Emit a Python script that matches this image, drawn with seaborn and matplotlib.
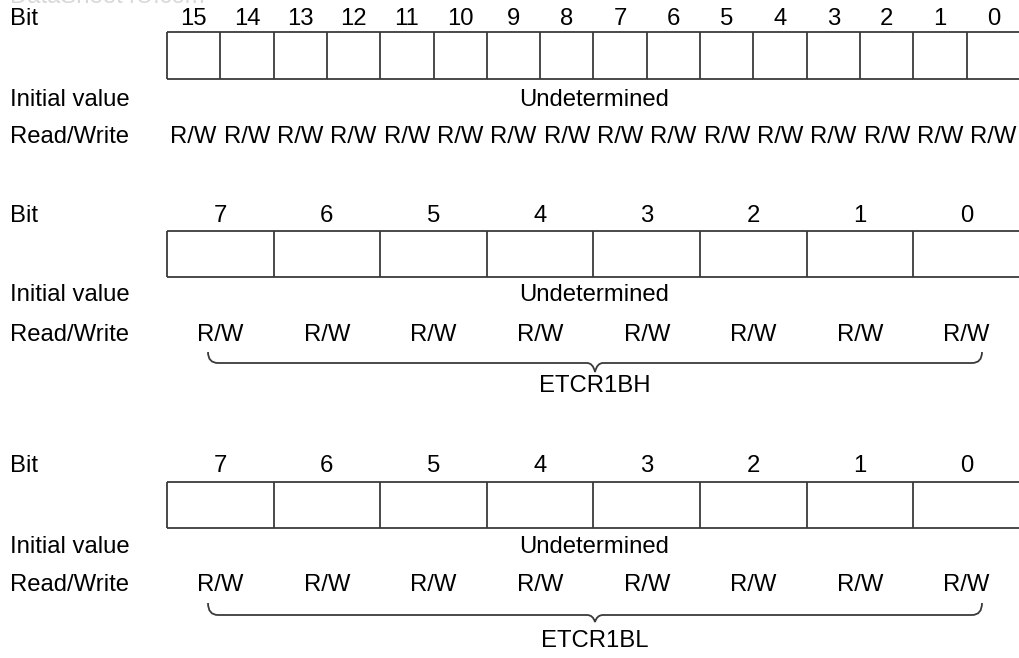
import matplotlib
matplotlib.use("Agg")
import matplotlib.pyplot as plt
from matplotlib.path import Path
from matplotlib.patches import PathPatch
import seaborn as sns

# ---- data ----
row_labels = ["Bit", "Initial value", "Read/Write"]
bits16 = [str(b) for b in range(15, -1, -1)]
bits8 = [str(b) for b in range(7, -1, -1)]
rw16 = ["R/W"] * 16
rw8 = ["R/W"] * 8
initial_text = "Undetermined"
register_names = [None, "ETCR1BH", "ETCR1BL"]
watermark = "DataSheet4U.com"

sns.set_theme(style="white")
plt.rcParams['font.family'] = ['Liberation Sans', 'DejaVu Sans']

W, H = 1020, 658
fig = plt.figure(figsize=(W / 100, H / 100), dpi=100)
ax = fig.add_axes([0, 0, 1, 1])
ax.set_xlim(0, W)
ax.set_ylim(H, 0)
ax.axis("off")

FS = 17.2
LC = "#3a3a3a"
LW = 1.3
x0, x1 = 167, 1021

ax.text(10, -3, watermark, fontsize=FS, color="#d8d8d8", ha="left", va="center", zorder=0)

sections = [
    dict(bits=bits16, rw=rw16, y_bit=19, box=(32, 79), y_init=100, y_rw=137, name=None),
    dict(bits=bits8, rw=rw8, y_bit=216, box=(231, 277), y_init=295, y_rw=335,
         name=register_names[1], brace=(352, 363, 372), y_name=386),
    dict(bits=bits8, rw=rw8, y_bit=466, box=(482, 528), y_init=547, y_rw=585,
         name=register_names[2], brace=(603, 615, 622), y_name=641),
]


def brace(ax, xl, xr, y_top, y_line, y_tip):
    xc = (xl + xr) / 2
    r = 10
    verts = [(xl, y_top), (xl, y_line), (xl + r, y_line),
             (xc - 8, y_line), (xc - 2, y_line), (xc, y_tip),
             (xc + 2, y_line), (xc + 8, y_line),
             (xr - r, y_line), (xr, y_line), (xr, y_top)]
    codes = [Path.MOVETO, Path.CURVE3, Path.CURVE3,
             Path.LINETO, Path.CURVE3, Path.CURVE3,
             Path.CURVE3, Path.CURVE3,
             Path.LINETO, Path.CURVE3, Path.CURVE3]
    ax.add_patch(PathPatch(Path(verts, codes), fill=False, edgecolor=LC, lw=LW))


for s in sections:
    n = len(s["bits"])
    cw = (1020 - x0) / n
    yt, yb = s["box"]
    ax.text(10, s["y_bit"], row_labels[0], fontsize=FS, ha="left", va="center", color="black")
    ax.text(10, s["y_init"], row_labels[1], fontsize=FS, ha="left", va="center", color="black")
    ax.text(10, s["y_rw"], row_labels[2], fontsize=FS, ha="left", va="center", color="black")
    ax.hlines([yt, yb], x0, x1, colors=LC, lw=LW)
    ax.vlines([x0 + i * cw for i in range(n)], yt, yb, colors=LC, lw=LW)
    for i, (b, rw) in enumerate(zip(s["bits"], s["rw"])):
        xc = x0 + (i + 0.5) * cw
        ax.text(xc, s["y_bit"], b, fontsize=FS, ha="center", va="center", color="black")
        ax.text(xc, s["y_rw"], rw, fontsize=FS, ha="center", va="center", color="black")
    ax.text(594, s["y_init"], initial_text, fontsize=FS, ha="center", va="center", color="black")
    if s["name"]:
        brace(ax, 208, 982, *s["brace"])
        ax.text(595, s["y_name"], s["name"], fontsize=FS, ha="center", va="center", color="black")

fig.savefig("out.png", dpi=100)
